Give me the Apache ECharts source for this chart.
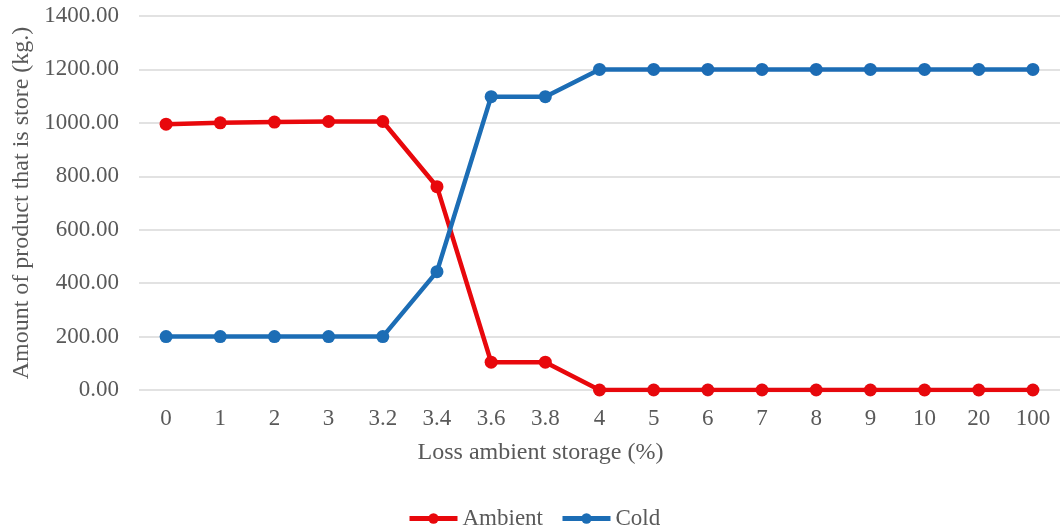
<!DOCTYPE html>
<html>
<head>
<meta charset="utf-8">
<script src="https://cdn.jsdelivr.net/npm/echarts@6/dist/echarts.min.js"></script>
<style>
html,body{margin:0;padding:0;background:#fff;}
#chart{width:1060px;height:528px;}
</style>
</head>
<body>
<div id="chart"></div>
<script>
const categories = ['0','1','2','3','3.2','3.4','3.6','3.8','4','5','6','7','8','9','10','20','100'];
const ambient = [995, 1000, 1003, 1005, 1005, 761, 104, 104, 0, 0, 0, 0, 0, 0, 0, 0, 0];
const cold = [200, 200, 200, 200, 200, 443, 1098, 1098, 1200, 1200, 1200, 1200, 1200, 1200, 1200, 1200, 1200];
const seriesNames = ['Ambient', 'Cold'];
const xAxisTitle = 'Loss ambient storage (%)';
const yAxisTitle = 'Amount of product that is store (kg.)';

const font = 'Liberation Serif';
const textColor = '#595959';
const chart = echarts.init(document.getElementById('chart'));
chart.setOption({
  animation: false,
  textStyle: { fontFamily: font },
  grid: { left: 139, right: 0, top: 16, bottom: 138 },
  legend: {
    top: 502,
    left: 402,
    itemWidth: 48,
    itemHeight: 13,
    itemGap: 17,
    lineStyle: { width: 5 },
    textStyle: { fontFamily: font, fontSize: 23, color: textColor },
    data: seriesNames
  },
  xAxis: {
    type: 'category',
    data: categories,
    boundaryGap: true,
    name: xAxisTitle,
    nameLocation: 'middle',
    nameGap: 51,
    nameTextStyle: { fontFamily: font, fontSize: 24, color: textColor, padding: [0, 118, 0, 0] },
    axisLine: { show: false },
    axisTick: { show: false },
    axisLabel: { fontFamily: font, fontSize: 23, color: textColor, margin: 17 }
  },
  yAxis: {
    type: 'value',
    min: 0,
    max: 1400,
    interval: 200,
    name: yAxisTitle,
    nameLocation: 'middle',
    nameGap: 104,
    nameTextStyle: { fontFamily: font, fontSize: 24, color: textColor },
    axisLine: { show: false },
    axisTick: { show: false },
    axisLabel: { fontFamily: font, fontSize: 23, color: textColor, margin: 20,
      formatter: v => v.toFixed(2) },
    splitLine: { lineStyle: { color: '#d9d9d9', width: 1.5 } }
  },
  series: [
    {
      name: seriesNames[0], type: 'line', data: ambient,
      symbol: 'circle', symbolSize: 13,
      lineStyle: { color: '#e8080c', width: 4.5 },
      itemStyle: { color: '#e8080c' }
    },
    {
      name: seriesNames[1], type: 'line', data: cold,
      symbol: 'circle', symbolSize: 13,
      lineStyle: { color: '#1c6db5', width: 4.5 },
      itemStyle: { color: '#1c6db5' }
    }
  ]
});
</script>
</body>
</html>
